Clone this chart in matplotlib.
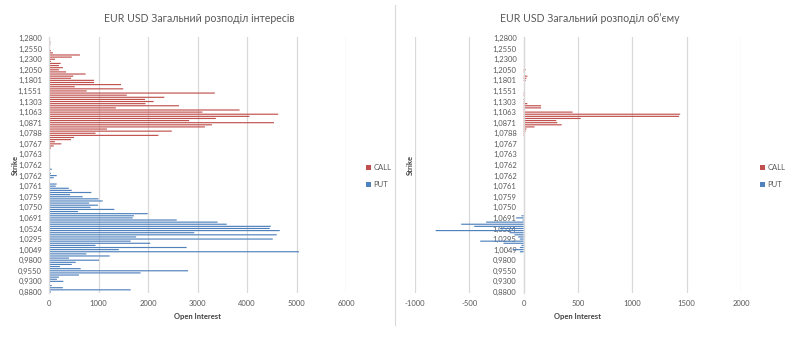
import matplotlib
matplotlib.use("Agg")
import matplotlib.pyplot as plt
from matplotlib.lines import Line2D

plt.rcParams["font.family"] = ["Lato", "Open Sans", "DejaVu Sans"]
plt.rcParams["axes.unicode_minus"] = False

# --------------------------------------------------------------------------- #
# data (rows from top to bottom, one label shown every 5th row)
# --------------------------------------------------------------------------- #
strike_labels = [
    "1,2800", "1,2550", "1,2300", "1,2050", "1,1801", "1,1551", "1,1303",
    "1,1063", "1,0871", "1,0788", "1,0767", "1,0763", "1,0762", "1,0762",
    "1,0761", "1,0759", "1,0750", "1,0691", "1,0524", "1,0295", "1,0049",
    "0,9800", "0,9550", "0,9300", "0,8800",
]

call_oi = [
    10, 20, 30, 25, 20, 15, 40, 80, 625, 460,
    120, 40, 235, 200, 280, 200, 345, 740, 490, 445,
    910, 910, 1455, 520, 1500, 760, 3350, 1570, 2330, 1940,
    2115, 1950, 2625, 1350, 3850, 3100, 4630, 4050, 3370, 2830,
    4545, 3290, 3150, 1170, 2480, 940, 2210, 505, 445, 120,
    250, 95, 40, 0, 20, 20, 5, 20, 0, 0,
    0, 0, 0, 0, 0, 0, 0, 0, 10, 0,
] + [0] * 51

put_oi = [0] * 60 + [
    0, 0, 55, 0, 40, 155, 95, 0, 0, 155,
    135, 400, 460, 855, 425, 680, 1000, 1085, 810, 990,
    840, 1320, 585, 1995, 1715, 1690, 2580, 3405, 3590, 4480,
    4460, 4660, 2935, 4600, 1760, 4520, 1650, 2045, 940, 2780,
    1410, 5050, 755, 1225, 405, 1010, 540, 460, 220, 640,
    2810, 1850, 605, 200, 160, 290, 20, 55, 280, 1650,
    40,
]

call_vol = [0] * 10 + [
    0, 0, 0, 0, 0, 18, 12, 0, 34, 25,
    18, 0, 0, 0, 0, 0, 8, 5, 0, 12,
    12, 34, 160, 160, 8, 450, 1440, 1430, 525, 300,
    310, 350, 100, 25, 18, 12, 12, 0, 0, 0,
] + [0] * 71

put_vol = [0] * 80 + [
    0, 0, 0, 0, -20, -70, -10, -345, -575, -455,
    -220, -810, -130, -85, -50, -35, -400, -185, -20, -35,
    -100, -35,
] + [0] * 19

CALL_C = "#C0504D"
PUT_C = "#4F81BD"
GRID_C = "#d9d9d9"
TEXT_C = "#595959"

W, H = 800, 339
fig = plt.figure(figsize=(W / 100, H / 100), dpi=100)


def px_axes(x0, y0, x1, y1):
    return fig.add_axes([x0 / W, 1 - y1 / H, (x1 - x0) / W, (y1 - y0) / H])


def style_axes(ax, xticks, zero_spine=False):
    rows = list(range(len(call_oi)))
    ax.set_ylim(len(rows) - 0.5, -0.5)
    ax.set_yticks(rows[::5])
    ax.set_yticklabels(strike_labels)
    ax.set_xticks(xticks)
    ax.set_xlim(xticks[0], xticks[-1])
    ax.xaxis.grid(True, color=GRID_C, lw=0.9)
    ax.set_axisbelow(True)
    for s in ("top", "right", "bottom"):
        ax.spines[s].set_visible(False)
    ax.spines["left"].set_color(GRID_C)
    ax.spines["left"].set_linewidth(0.9)
    if zero_spine:
        ax.spines["left"].set_position(("data", 0))
    ax.tick_params(axis="y", length=0, pad=5, labelsize=5.5, labelcolor=TEXT_C)
    ax.tick_params(axis="x", length=0, pad=5, labelsize=5.5, labelcolor=TEXT_C)


def legend(ax, bars, x):
    ax.legend(bars, ["CALL", "PUT"], loc="center left",
              bbox_to_anchor=(x / W, 1 - 176 / H), bbox_transform=fig.transFigure,
              frameon=False, fontsize=5.5, handlelength=0.6, handleheight=0.6,
              handletextpad=0.4, labelspacing=1.3, borderpad=0, borderaxespad=0,
              labelcolor=TEXT_C)


def bars(ax, values, color):
    return ax.barh(rows, values, height=0.55, color=color, snap=False,
                   linewidth=0)


rows = list(range(len(call_oi)))

# --- left: open interest ---
ax1 = px_axes(49, 37, 346, 293)
b1 = bars(ax1, call_oi, CALL_C)
b2 = bars(ax1, put_oi, PUT_C)
style_axes(ax1, [0, 1000, 2000, 3000, 4000, 5000, 6000])
legend(ax1, [b1, b2], 366)

# --- right: volume ---
ax2 = px_axes(415, 37, 741, 293)
b3 = bars(ax2, call_vol, CALL_C)
b4 = bars(ax2, put_vol, PUT_C)
style_axes(ax2, [-1000, -500, 0, 500, 1000, 1500, 2000], zero_spine=True)
legend(ax2, [b3, b4], 760)

title_font = ["Lato", "Open Sans", "DejaVu Sans"]
fig.text(199 / W, 1 - 18 / H, "EUR USD Загальний розподіл інтересів",
         ha="center", va="center", fontsize=7.6, color=TEXT_C, family=title_font)
fig.text(590 / W, 1 - 18 / H, "EUR USD Загальний розподіл об’єму",
         ha="center", va="center", fontsize=7.6, color=TEXT_C, family=title_font)

for x in (15, 410):
    fig.text(x / W, 1 - 165 / H, "Strike", rotation=90, ha="center", va="center",
             fontsize=5.5, fontweight="bold", color="#404040")
for x in (198, 578):
    fig.text(x / W, 1 - 316 / H, "Open Interest", ha="center", va="center",
             fontsize=5.5, fontweight="bold", color="#404040")

# border between the two charts
fig.add_artist(Line2D([395 / W, 395 / W], [1 - 5 / H, 1 - 325 / H],
                      color=GRID_C, lw=0.8))

fig.savefig("out.png", dpi=100)
